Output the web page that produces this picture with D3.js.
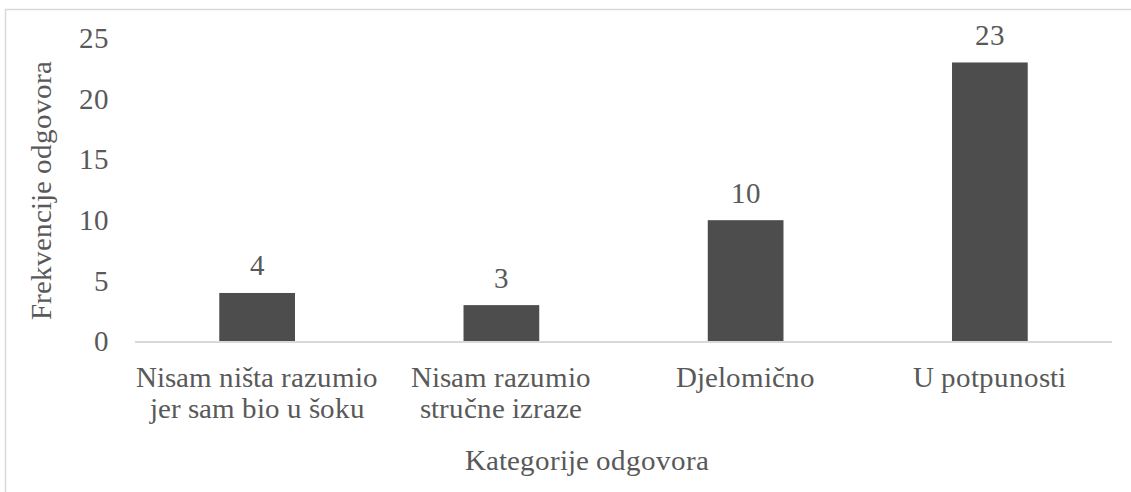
<!DOCTYPE html>
<html><head><meta charset="utf-8">
<script src="https://cdn.jsdelivr.net/npm/d3@7"></script>
<style>
@font-face { font-family: "ChartSerif"; src: local("Liberation Serif"), local("LiberationSerif"), local("Times New Roman"); }
</style>
</head>
<body style="margin:0"><script>
// Data
var categories = [["Nisam ništa razumio", "jer sam bio u šoku"], ["Nisam razumio", "stručne izraze"], ["Djelomično"], ["U potpunosti"]];
var values = [4, 3, 10, 23];
var yTicks = [0, 5, 10, 15, 20, 25];

var w = 1131;
var h = 492;
var fam = "ChartSerif, 'Liberation Serif', 'Times New Roman', serif";
var fs = 28.5;
var txtCol = "#595959";

var svg = d3.select("body").append("svg")
            .attr("width", w)
            .attr("height", h)
            .attr("font-family", fam);

var x = d3.scaleBand()
          .domain(d3.range(values.length))
          .range([135, 1112])
          .paddingInner(0.69)
          .paddingOuter(0.345);

var y = d3.scaleLinear()
          .domain([0, 25])
          .range([341.5, 38.2]);

// y tick labels
svg.selectAll("text.ytick")
   .data(yTicks)
   .enter()
   .append("text")
   .attr("x", 109)
   .attr("y", function(d){ return y(d) + 9.7; })
   .attr("text-anchor", "end")
   .attr("font-family", fam)
   .attr("font-size", fs)
   .attr("fill", txtCol)
   .text(function(d){ return d; });

// value labels
svg.selectAll("text.val")
   .data(values)
   .enter()
   .append("text")
   .attr("x", function(d, i){ return x(i) + x.bandwidth()/2; })
   .attr("y", function(d){ return y(d) - 17.5; })
   .attr("text-anchor", "middle")
   .attr("font-family", fam)
   .attr("font-size", fs)
   .attr("fill", txtCol)
   .text(function(d){ return d; });

// category labels, one text per line
var lines = [];
categories.forEach(function(c, i){
  c.forEach(function(s, j){ lines.push({s: s, i: i, j: j}); });
});
svg.selectAll("text.cat")
   .data(lines)
   .enter()
   .append("text")
   .attr("x", function(d){ return x(d.i) + x.bandwidth()/2; })
   .attr("y", function(d){ return 386.7 + d.j*31.6; })
   .attr("text-anchor", "middle")
   .attr("font-family", fam)
   .attr("font-size", fs)
   .attr("fill", txtCol)
   .text(function(d){ return d.s; });

// axis titles
svg.append("text")
   .attr("x", 587)
   .attr("y", 470)
   .attr("text-anchor", "middle")
   .attr("font-family", fam)
   .attr("font-size", fs)
   .attr("fill", txtCol)
   .text("Kategorije odgovora");

svg.append("text")
   .attr("transform", "translate(51,190) rotate(-90)")
   .attr("text-anchor", "middle")
   .attr("font-family", fam)
   .attr("font-size", fs)
   .attr("fill", txtCol)
   .text("Frekvencije odgovora");

// bars
svg.selectAll("rect.bar")
   .data(values)
   .enter()
   .append("rect")
   .attr("x", function(d, i){ return x(i); })
   .attr("y", function(d){ return y(d); })
   .attr("width", x.bandwidth())
   .attr("height", function(d){ return y(0) - y(d); })
   .attr("fill", "#4d4d4d");

// x axis line
svg.append("line")
   .attr("x1", 135).attr("x2", 1112)
   .attr("y1", y(0) + 0.5).attr("y2", y(0) + 0.5)
   .attr("stroke", "#d9d9d9")
   .attr("stroke-width", 2);

// chart border (cropped on right and bottom)
svg.append("path")
   .attr("d", "M5.5,492V9.5H1131")
   .attr("fill", "none")
   .attr("stroke", "#d9d9d9")
   .attr("stroke-width", 1.5);
</script></body></html>
